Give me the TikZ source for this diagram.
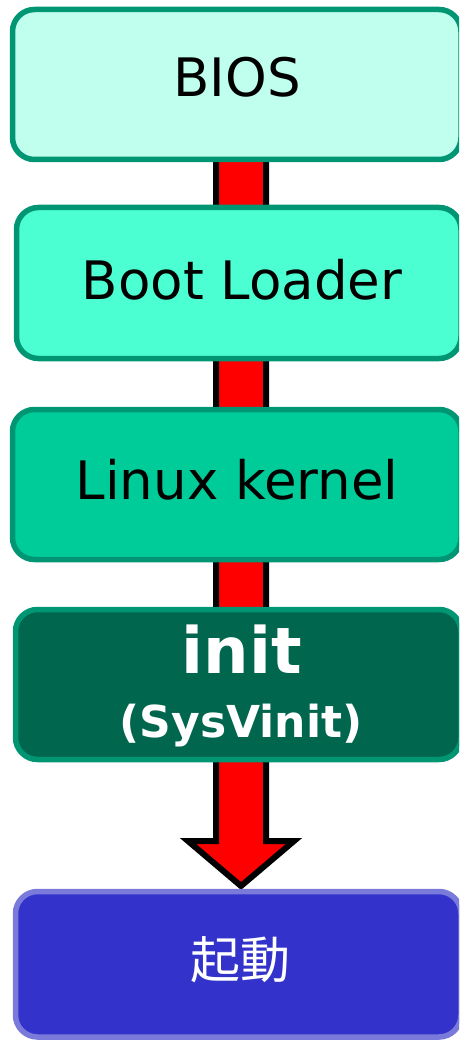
\documentclass[tikz,border=0pt]{standalone}
\usepackage{fontspec}
\setmainfont{DejaVu Sans}
\newfontfamily\cjk{Noto Sans CJK JP}
\definecolor{edgeg}{RGB}{0,150,115}
\definecolor{fillA}{RGB}{192,255,238}
\definecolor{fillB}{RGB}{75,255,210}
\definecolor{fillC}{RGB}{0,204,153}
\definecolor{fillD}{RGB}{0,102,77}
\definecolor{fillE}{RGB}{51,51,204}
\definecolor{edgeE}{RGB}{122,122,218}
\definecolor{arrowred}{RGB}{255,0,0}
\tikzset{
  stagebox/.style={draw=edgeg, line width=5.5pt, rounded corners=22pt},
  lbl/.style={anchor=base, inner sep=0pt, font=\fontsize{53}{60}\selectfont},
}
\begin{document}
\begin{tikzpicture}[x=1pt,y=-1pt]
\useasboundingbox (0,0) rectangle (459,1040);
\begin{scope}
\clip (0,0) rectangle (459,1040);
% arrow behind boxes
\draw[line width=6pt, fill=arrowred, miter limit=10] (216,150) -- (266,150) -- (266,841) -- (294,841) -- (241,886) -- (188,841) -- (216,841) -- cycle;
\draw[stagebox, fill=fillA] (12.5,9.5) rectangle (461,159.5);
\draw[stagebox, fill=fillB] (16.5,207.5) rectangle (461,358.5);
\draw[stagebox, fill=fillC] (12.5,409.5) rectangle (461,559.5);
\draw[stagebox, fill=fillD] (15.5,609.5) rectangle (461,759.5);
\draw[stagebox, draw=edgeE, fill=fillE] (15.5,891.5) rectangle (461,1037);
\end{scope}
\node[lbl] (bios) at (237,97) {BIOS};
\node[lbl] (boot) at (242,299) {Boot Loader};
\node[lbl] (kern) at (237,499) {Linux kernel};
\node[lbl, text=white, font=\bfseries\fontsize{64}{70}\selectfont] (init) at (242,673) {init};
\node[lbl, text=white, font=\bfseries\fontsize{44}{50}\selectfont] (sysv) at (241,737) {(SysVinit)};
\node[inner sep=0pt, text=white, font=\cjk\fontsize{50}{60}\selectfont] (boot2) at (240,960) {起動};
\end{tikzpicture}
\end{document}
